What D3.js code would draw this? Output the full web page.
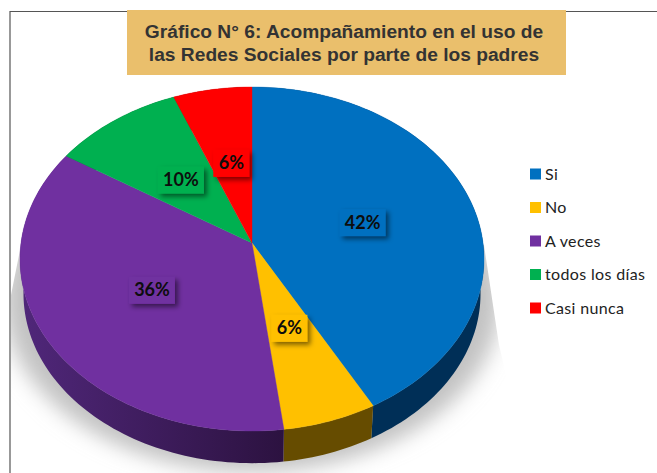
<!DOCTYPE html>
<html>
<head>
<meta charset="utf-8">
<script src="https://cdn.jsdelivr.net/npm/d3@7"></script>
<style>
  html, body { margin: 0; padding: 0; background: #fff; }
  svg { display: block; }
</style>
</head>
<body>
<div id="chart"></div>
<script>
const categories = ["Si", "No", "A veces", "todos los días", "Casi nunca"];
const values = [42, 6, 36, 10, 6];
const colors = ["#0070c0", "#ffc000", "#7030a0", "#00b050", "#ff0000"];
const rimColors = ["#002f57", "#664c00", "url(#rimPurple)", "#004a22", "#660000"];
const titleLines = ["Gráfico N° 6: Acompañamiento en el uso de", "las Redes Sociales por parte de los padres"];

const width = 657, height = 473;

const svg = d3.select("#chart").append("svg")
    .attr("width", width)
    .attr("height", height);

const defs = svg.append("defs");
defs.append("filter").attr("id", "blur")
    .attr("x", "-20%").attr("y", "-20%").attr("width", "140%").attr("height", "140%")
    .append("feGaussianBlur").attr("stdDeviation", 10);

const labelShadow = defs.append("filter").attr("id", "labelShadow")
    .attr("x", "-30%").attr("y", "-30%").attr("width", "170%").attr("height", "170%");
labelShadow.append("feDropShadow")
    .attr("dx", 3).attr("dy", 3).attr("stdDeviation", 2.5)
    .attr("flood-color", "#000").attr("flood-opacity", 0.5);

const rimGrad = defs.append("linearGradient").attr("id", "rimPurple");
rimGrad.append("stop").attr("offset", "0%").attr("stop-color", "#50277a");
rimGrad.append("stop").attr("offset", "100%").attr("stop-color", "#2c1240");

// pie seen in perspective: apex is not the middle of the outline
const tilt = 0.093;
const xScale = d3.scaleLinear().domain([-1, 1]).range([252 - 231, 252 + 231]);
const yScale = d3.scaleLinear().domain([-1, 1]).range([243 - 170.5, 243 + 170.5]);

function project(angle, r = 1) {
    const x = Math.sin(angle) * r, y = -Math.cos(angle) * r;
    const w = 1 - tilt * y;
    return [xScale(x / w), yScale(y / w)];
}

const pie = d3.pie().sort(null).value(d => d);
const arcs = pie(values);
const line = d3.line();

function arcPoints(a0, a1) {
    const n = Math.max(2, Math.ceil((a1 - a0) * 40));
    return d3.range(n + 1).map(i => project(a0 + (a1 - a0) * i / n));
}

// frame behind the title
const frame = svg.append("g").attr("fill", "none").attr("stroke", "#555").attr("stroke-width", 1.2);
frame.append("path").attr("d", line([[width, 11.5], [10, 11.5], [10, height]]));

// soft shadow on the floor, cut straight at both sides like the original
defs.append("clipPath").attr("id", "shadowClip")
    .append("path")
    .attr("d", line([[20, 250], [484, 245], [499, 345], [530, 473], [11, 473], [11, 295]]) + "Z");
svg.append("g").attr("clip-path", "url(#shadowClip)")
    .append("path")
    .attr("d", line(arcPoints(0, 2 * Math.PI)) + "Z")
    .attr("transform", "translate(252,284) scale(1.07,1) translate(-252,-243)")
    .attr("fill", "#c2c2c2")
    .attr("filter", "url(#blur)");

// rim, lower outline pushed down and a bit narrower
const rimDrop = 35, rimScale = 0.985;
const lower = p => [252 + (p[0] - 252) * rimScale, 243 + rimDrop + (p[1] - 243) * rimScale];

svg.append("g").selectAll("path")
    .data(arcs)
    .join("path")
    .attr("fill", (d, i) => rimColors[i])
    .attr("d", d => {
        const top = arcPoints(d.startAngle, d.endAngle);
        return line(top.concat(top.map(lower).reverse())) + "Z";
    });

// top face
svg.append("g").selectAll("path")
    .data(arcs)
    .join("path")
    .attr("fill", (d, i) => colors[i])
    .attr("stroke", (d, i) => colors[i])
    .attr("stroke-width", 0.4)
    .attr("d", d => line([[252, 243], ...arcPoints(d.startAngle, d.endAngle)]) + "Z");

// data labels sit on small raised boxes, halfway out along each slice
const labels = svg.append("g").selectAll("g")
    .data(arcs)
    .join("g")
    .attr("transform", d => `translate(${project((d.startAngle + d.endAngle) / 2, 0.5)})`);

labels.append("rect")
    .attr("x", d => d.value > 9 ? -23 : -18)
    .attr("y", -13)
    .attr("width", d => d.value > 9 ? 46 : 36)
    .attr("height", 27)
    .attr("fill", (d, i) => colors[i])
    .attr("filter", "url(#labelShadow)");

labels.append("text")
    .attr("text-anchor", "middle")
    .attr("y", 6.5)
    .attr("font-family", "Lato, sans-serif")
    .attr("font-weight", 700)
    .attr("font-size", 18)
    .attr("fill", "#0d0d0d")
    .text(d => d.value + "%");

// title
svg.append("rect")
    .attr("x", 127).attr("y", 10).attr("width", 439).attr("height", 65)
    .attr("fill", "#eabf6c");

svg.append("g").selectAll("text")
    .data(titleLines)
    .join("text")
    .attr("x", 344)
    .attr("y", (d, i) => 37.5 + i * 23.2)
    .attr("text-anchor", "middle")
    .attr("font-family", "Liberation Sans, Arial, sans-serif")
    .attr("font-weight", 700)
    .attr("font-size", 19.2)
    .attr("fill", "#333")
    .text(d => d);

// legend
const legendY = d3.scalePoint().domain(categories).range([174, 308]);
const legend = svg.append("g").selectAll("g")
    .data(categories)
    .join("g")
    .attr("transform", d => `translate(530,${legendY(d)})`);

legend.append("rect")
    .attr("y", -5.5).attr("width", 11).attr("height", 11)
    .attr("fill", (d, i) => colors[i]);

legend.append("text")
    .attr("x", 15).attr("y", 5.5)
    .attr("font-family", "Lato, sans-serif")
    .attr("font-size", 16)
    .attr("letter-spacing", 0.35)
    .attr("fill", "#222")
    .text(d => d);
</script>
</body>
</html>
